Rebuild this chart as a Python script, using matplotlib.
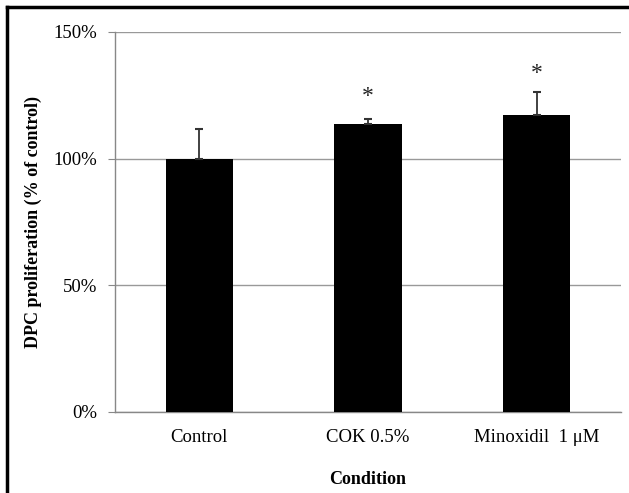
import matplotlib
matplotlib.use("Agg")
import matplotlib.pyplot as plt
from matplotlib.lines import Line2D
import numpy as np

# data
conditions = ["Control", "COK 0.5%", "Minoxidil  1 \u03bcM"]
proliferation = [100.0, 113.8, 117.2]
errors = [11.8, 1.9, 9.2]
signif = ["", "*", "*"]
star_pos = [0, 124.5, 133.8]

plt.rcParams['font.family'] = ['Liberation Serif', 'DejaVu Serif']

fig = plt.figure(figsize=(6.29, 4.93), dpi=100)
ax = fig.add_axes([115 / 629, 1 - 412 / 493, (621 - 115) / 629, (412 - 32) / 493])

x = np.arange(len(conditions))
ax.bar(x, proliferation, width=0.4, color="black", zorder=3)
ax.errorbar(x, proliferation, yerr=[np.zeros(len(errors)), errors], fmt="none",
            ecolor="#333333", elinewidth=1.3, capsize=3, capthick=1.5, zorder=4)
for xi, s, ys in zip(x, signif, star_pos):
    if s:
        ax.text(xi, ys, s, ha="center", va="center", fontsize=17, color="#222222")

ax.set_xlim(-0.5, 2.5)
ax.set_ylim(0, 150)
ax.set_yticks([0, 50, 100, 150])
ax.set_yticklabels(["0%", "50%", "100%", "150%"], fontsize=13.5)
ax.set_xticks(x)
ax.set_xticklabels(conditions, fontsize=13.5)
ax.tick_params(axis="x", length=0, pad=12)
ax.tick_params(axis="y", length=5, color="#888888", pad=8)
ax.yaxis.grid(True, color="#999999", linewidth=1)
ax.set_axisbelow(True)
for side in ["top", "right"]:
    ax.spines[side].set_visible(False)
for side in ["left", "bottom"]:
    ax.spines[side].set_color("#888888")
    ax.spines[side].set_linewidth(1)

ax.set_ylabel("DPC proliferation (% of control)", fontsize=13, fontweight="bold", labelpad=8)
ax.set_xlabel("Condition", fontsize=13, fontweight="bold", labelpad=18)

# frame of the figure (only top and left visible in the reference)
fig.add_artist(Line2D([7 / 629, 7 / 629], [0, 1 - 7 / 493], color="black", linewidth=2.5,
                      transform=fig.transFigure))
fig.add_artist(Line2D([7 / 629, 1], [1 - 7 / 493, 1 - 7 / 493], color="black", linewidth=2.5,
                      transform=fig.transFigure))

fig.savefig("out.png", dpi=100)
